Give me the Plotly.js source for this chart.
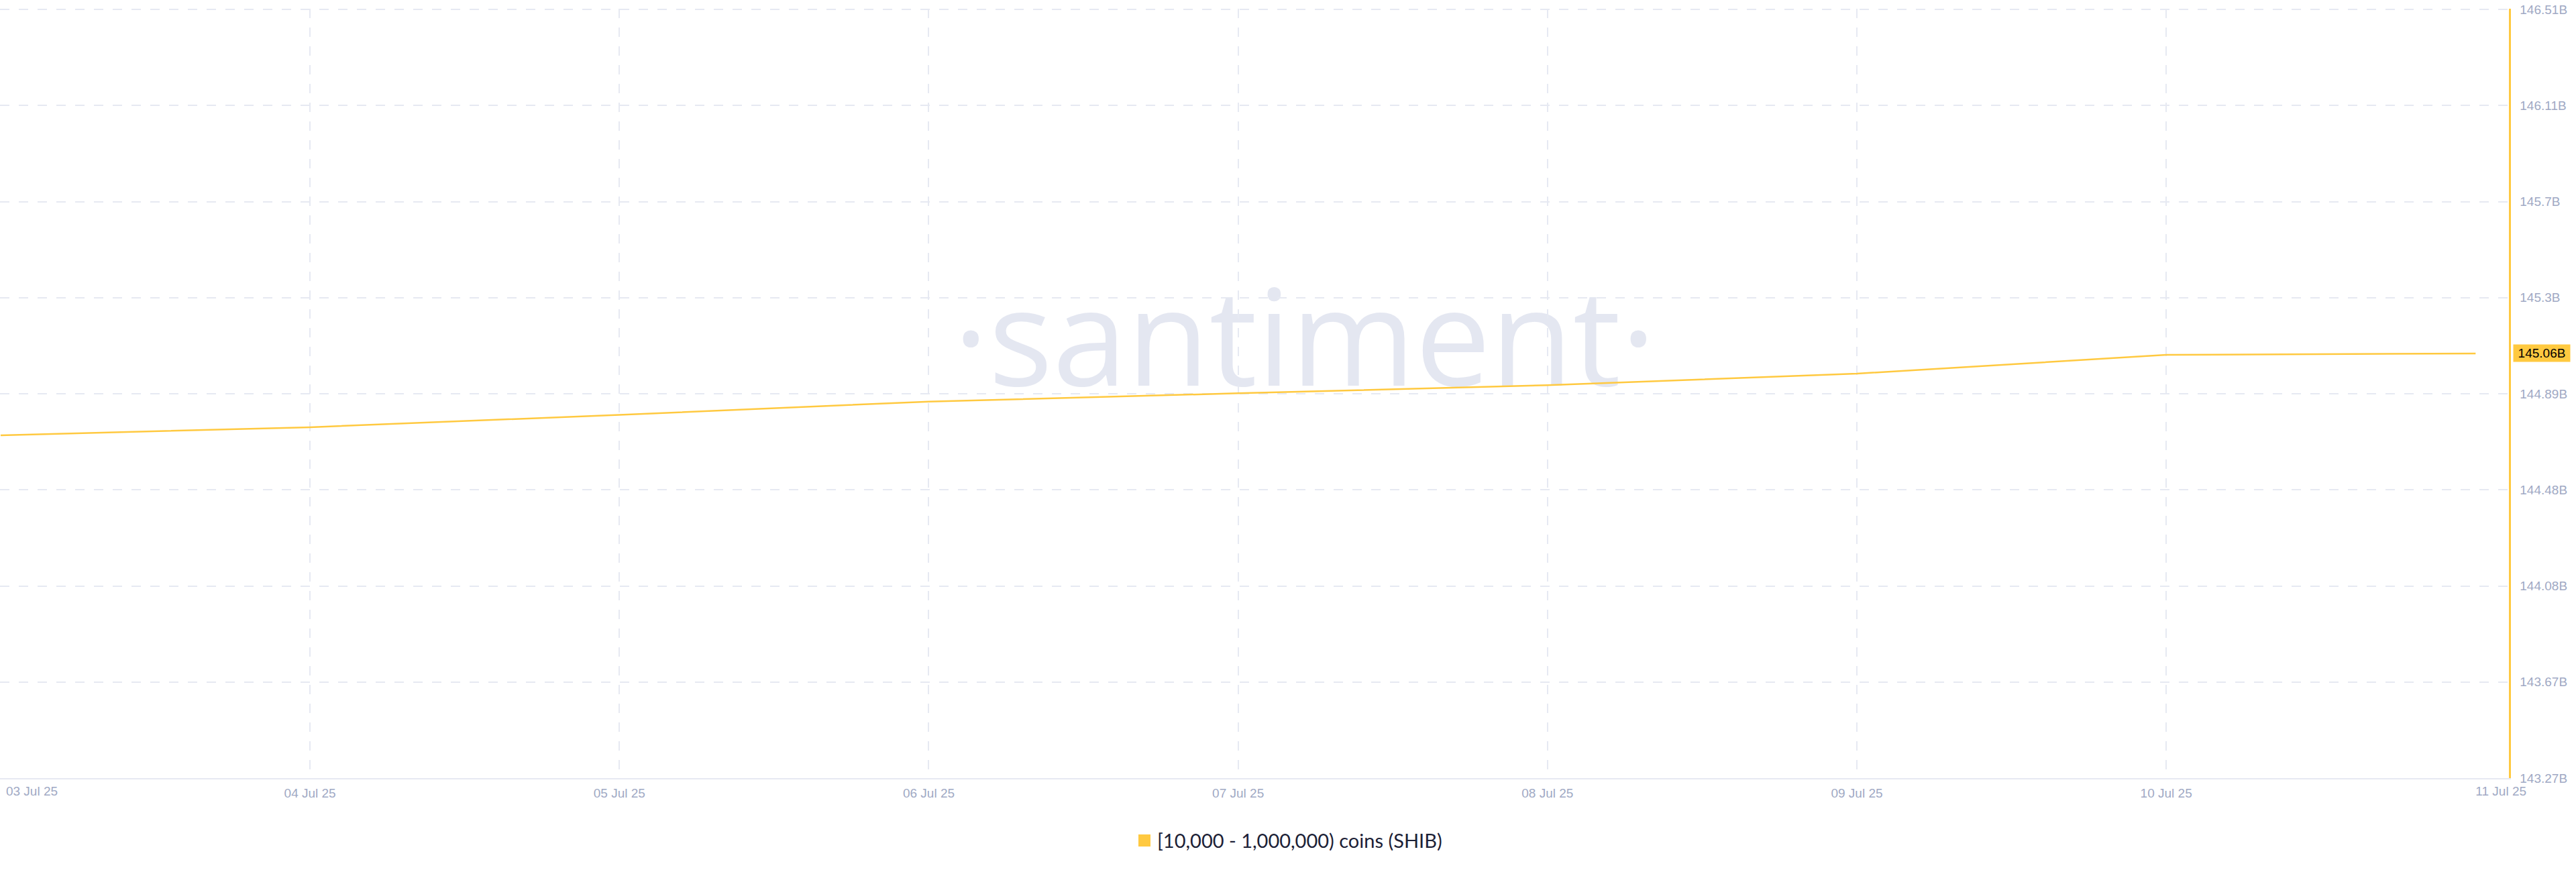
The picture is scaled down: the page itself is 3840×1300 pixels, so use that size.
<!DOCTYPE html>
<html>
<head>
<meta charset="utf-8">
<script src="https://cdn.plot.ly/plotly-3.0.1.min.js"></script>
<style>
  html, body { margin: 0; padding: 0; background: #ffffff; }
  #chart { width: 3840px; height: 1300px; }
</style>
</head>
<body>
<div id="chart"></div>
<script>
// ---- data ----
const seriesName = "[10,000 - 1,000,000) coins (SHIB)";
const dates = ["2025-07-03", "2025-07-04", "2025-07-05", "2025-07-06", "2025-07-07",
               "2025-07-08", "2025-07-09", "2025-07-10", "2025-07-11"];
const holdings = [144.715e9, 144.749e9, 144.801e9, 144.857e9, 144.892e9,
                  144.926e9, 144.975e9, 145.054e9, 145.060e9];
const gridDates = ["2025-07-03", "2025-07-04", "2025-07-05", "2025-07-06", "2025-07-07",
                   "2025-07-08", "2025-07-09", "2025-07-10"];
const gridDateLabels = ["", "04 Jul 25", "05 Jul 25", "06 Jul 25", "07 Jul 25",
                        "08 Jul 25", "09 Jul 25", "10 Jul 25"];
const firstDate = ["2025-07-03"];
const firstDateLabel = ["03 Jul 25"];
const lastDate = ["2025-07-11"];
const lastDateLabel = ["11 Jul 25"];
const yTickVals = [143.27e9, 143.675e9, 144.08e9, 144.485e9, 144.89e9,
                   145.295e9, 145.70e9, 146.105e9, 146.51e9];
const yTickLabels = ["143.27B", "143.67B", "144.08B", "144.48B", "144.89B",
                     "145.3B", "145.7B", "146.11B", "146.51B"];
const xRange = ["2025-07-02 23:57", "2025-07-11 02:35"];
const yRange = [143.27e9, 146.513e9];
const watermarkText = "·santiment·";

// ---- styles ----
const lineColor = "#ffc940";
const gridColor = "#e6e9f2";
const tickColor = "#a0a9c4";
const tickFont = { family: "Liberation Sans, Arial, sans-serif", size: 19, color: tickColor };

const lastVal = holdings[holdings.length - 1];

const traces = [{
  type: "scatter",
  mode: "lines",
  x: dates,
  y: holdings,
  name: seriesName,
  line: { color: lineColor, width: 2.5 },
  hoverinfo: "skip",
  xaxis: "x",
  yaxis: "y"
}, {
  type: "scatter", mode: "lines",
  x: firstDate, y: [null],
  xaxis: "x2", yaxis: "y",
  showlegend: false, hoverinfo: "skip"
}, {
  type: "scatter", mode: "lines",
  x: lastDate, y: [null],
  xaxis: "x3", yaxis: "y",
  showlegend: false, hoverinfo: "skip"
}];

function edgeAxis(vals, labels, shift) {
  return {
    type: "date",
    overlaying: "x",
    matches: "x",
    anchor: "y",
    side: "bottom",
    range: xRange,
    tickmode: "array",
    tickvals: vals,
    ticktext: labels,
    ticklabelposition: "outside right",
    ticklabelshift: shift,
    showgrid: false,
    zeroline: false,
    showline: false,
    ticks: "",
    tickfont: tickFont,
    ticklabelstandoff: 6,
    fixedrange: true
  };
}

const layout = {
  width: 3840,
  height: 1300,
  paper_bgcolor: "#ffffff",
  plot_bgcolor: "#ffffff",
  margin: { l: 0, r: 100, t: 13, b: 140, pad: 0 },
  showlegend: true,
  legend: {
    orientation: "h",
    xref: "container", x: 0.5, xanchor: "center",
    yref: "container", y: 0.036, yanchor: "middle",
    font: { family: "Lato, Open Sans, sans-serif", size: 29, color: "#1c2136" },
    bgcolor: "rgba(0,0,0,0)"
  },
  xaxis: {
    type: "date",
    range: xRange,
    tickmode: "array",
    tickvals: gridDates,
    ticktext: gridDateLabels,
    showgrid: true,
    gridcolor: gridColor,
    gridwidth: 2,
    griddash: "14px,14px",
    zeroline: false,
    showline: true,
    linecolor: gridColor,
    linewidth: 2,
    ticks: "",
    tickfont: tickFont,
    ticklabelstandoff: 4,
    fixedrange: true
  },
  xaxis2: edgeAxis(firstDate, firstDateLabel, 8),
  xaxis3: edgeAxis(lastDate, lastDateLabel, 0),
  yaxis: {
    side: "right",
    range: yRange,
    tickmode: "array",
    tickvals: yTickVals,
    ticktext: yTickLabels,
    showgrid: true,
    gridcolor: gridColor,
    gridwidth: 2,
    griddash: "14px,14px",
    zeroline: false,
    showline: true,
    linecolor: lineColor,
    linewidth: 2.5,
    ticks: "",
    tickfont: tickFont,
    ticklabelstandoff: 10,
    fixedrange: true
  },
  shapes: [{
    type: "rect",
    layer: "below",
    xref: "paper", yref: "paper",
    x0: 0.30, x1: 0.74, y0: 0.445, y1: 0.685,
    line: { width: 0 },
    fillcolor: "rgba(0,0,0,0)",
    label: {
      text: watermarkText,
      textposition: "middle center",
      font: { family: "Open Sans, sans-serif", size: 200, color: "#e4e7f1", weight: 400 }
    }
  }],
  annotations: [{
    xref: "paper", x: 1, xanchor: "left", xshift: 6,
    yref: "y", y: lastVal, yanchor: "middle",
    text: (lastVal / 1e9).toFixed(2) + "B",
    showarrow: false,
    bgcolor: lineColor,
    borderpad: 2,
    width: 80,
    font: { family: "Liberation Sans, Arial, sans-serif", size: 19, color: "#000000" }
  }]
};

Plotly.newPlot("chart", traces, layout, { staticPlot: true, displayModeBar: false }).then(function (gd) {
  // legend symbol drawn as a small square like the reference
  const paths = gd.querySelectorAll(".legend .legendlines path");
  paths.forEach(function (p) {
    p.setAttribute("d", "M12,0h18");
    p.style.strokeWidth = "18px";
    p.style.strokeLinecap = "butt";
  });
});
</script>
</body>
</html>
